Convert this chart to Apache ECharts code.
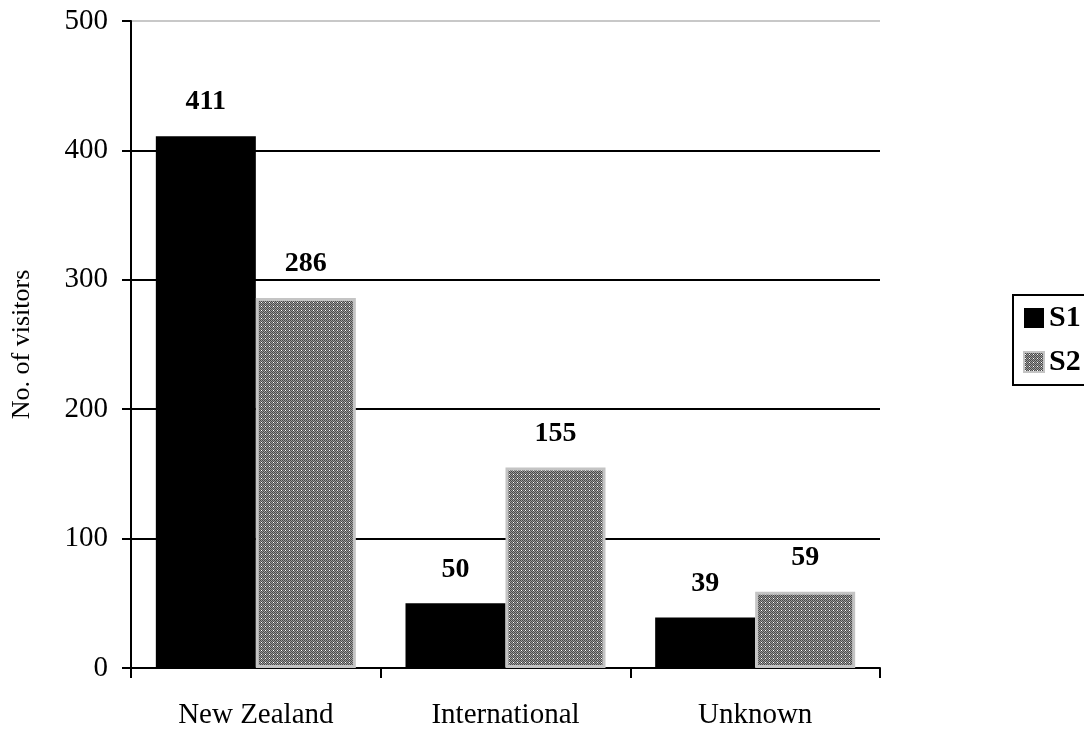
<!DOCTYPE html>
<html>
<head>
    <meta charset="UTF-8">
    <title>No. of visitors</title>
    <style>
        html, body { margin: 0; padding: 0; background: #fff; }
    </style>
</head>
<body>
    <div id="container" style="width: 1084px;height: 730px;"></div>
    <script src="https://cdn.jsdelivr.net/npm/echarts@6/dist/echarts.min.js"></script>
    <script type="text/javascript">
        // data
        var categories = ['New Zealand', 'International', 'Unknown'];
        var s1Values = [411, 50, 39];
        var s2Values = [286, 155, 59];
        var yTicks = [0, 100, 200, 300, 400, 500];

        // checker pattern for S2 bars
        function makePattern() {
            var c = document.createElement('canvas');
            c.width = 4;
            c.height = 4;
            var ctx = c.getContext('2d');
            ctx.fillStyle = '#9a9a9a';
            ctx.fillRect(0, 0, 4, 4);
            ctx.fillStyle = '#4a4a4a';
            for (var y = 0; y < 4; y++) {
                for (var x = 0; x < 4; x++) {
                    if ((x + y) % 2 === 0) ctx.fillRect(x, y, 1, 1);
                }
            }
            ctx.fillStyle = '#ffffff';
            ctx.fillRect(1, 2, 1, 1);
            return c;
        }

        var serif = 'Liberation Serif, Times New Roman, serif';
        var myChart = echarts.init(document.getElementById('container'));
        var option = {
            animation: false,
            textStyle: { fontFamily: serif },
            grid: {
                left: 131,
                right: 204,
                top: 21,
                bottom: 60
            },
            legend: {
                orient: 'vertical',
                left: 1013,
                top: 295,
                data: ['S1', 'S2'],
                icon: 'rect',
                itemWidth: 20,
                itemHeight: 20,
                itemGap: 14,
                padding: [8, 40, 8, 10],
                borderColor: '#000',
                borderWidth: 2,
                textStyle: {
                    fontFamily: serif,
                    fontWeight: 'bold',
                    fontSize: 30,
                    color: '#000'
                }
            },
            xAxis: {
                type: 'category',
                data: categories,
                axisLine: { lineStyle: { color: '#000', width: 2 } },
                axisTick: {
                    show: true,
                    length: 10,
                    lineStyle: { color: '#000', width: 2 }
                },
                axisLabel: {
                    color: '#000',
                    fontFamily: serif,
                    fontSize: 29,
                    margin: 33
                }
            },
            yAxis: {
                type: 'value',
                min: yTicks[0],
                max: yTicks[yTicks.length - 1],
                interval: 100,
                name: 'No. of visitors',
                nameLocation: 'middle',
                nameGap: 96,
                nameTextStyle: {
                    color: '#000',
                    fontFamily: serif,
                    fontSize: 26
                },
                axisLine: { show: true, lineStyle: { color: '#000', width: 2 } },
                axisTick: {
                    show: true,
                    length: 9,
                    lineStyle: { color: '#000', width: 2 }
                },
                axisLabel: {
                    color: '#000',
                    fontFamily: serif,
                    fontSize: 29,
                    margin: 23
                },
                splitLine: {
                    show: true,
                    lineStyle: {
                        color: ['#000', '#000', '#000', '#000', '#000', '#c8c8c8'],
                        width: 2
                    }
                }
            },
            series: [{
                name: 'S1',
                type: 'bar',
                data: s1Values,
                barWidth: 100,
                barGap: '0%',
                itemStyle: { color: '#000' },
                label: {
                    show: true,
                    position: 'top',
                    distance: 20,
                    color: '#000',
                    fontFamily: serif,
                    fontWeight: 'bold',
                    fontSize: 28
                }
            }, {
                name: 'S2',
                type: 'bar',
                data: s2Values,
                barWidth: 100,
                barGap: '0%',
                itemStyle: {
                    color: { image: makePattern(), repeat: 'repeat' },
                    borderColor: '#c4c4c4',
                    borderWidth: 3
                },
                label: {
                    show: true,
                    position: 'top',
                    distance: 20,
                    color: '#000',
                    fontFamily: serif,
                    fontWeight: 'bold',
                    fontSize: 28
                }
            }]
        };
        myChart.setOption(option);
    </script>
</body>
</html>
